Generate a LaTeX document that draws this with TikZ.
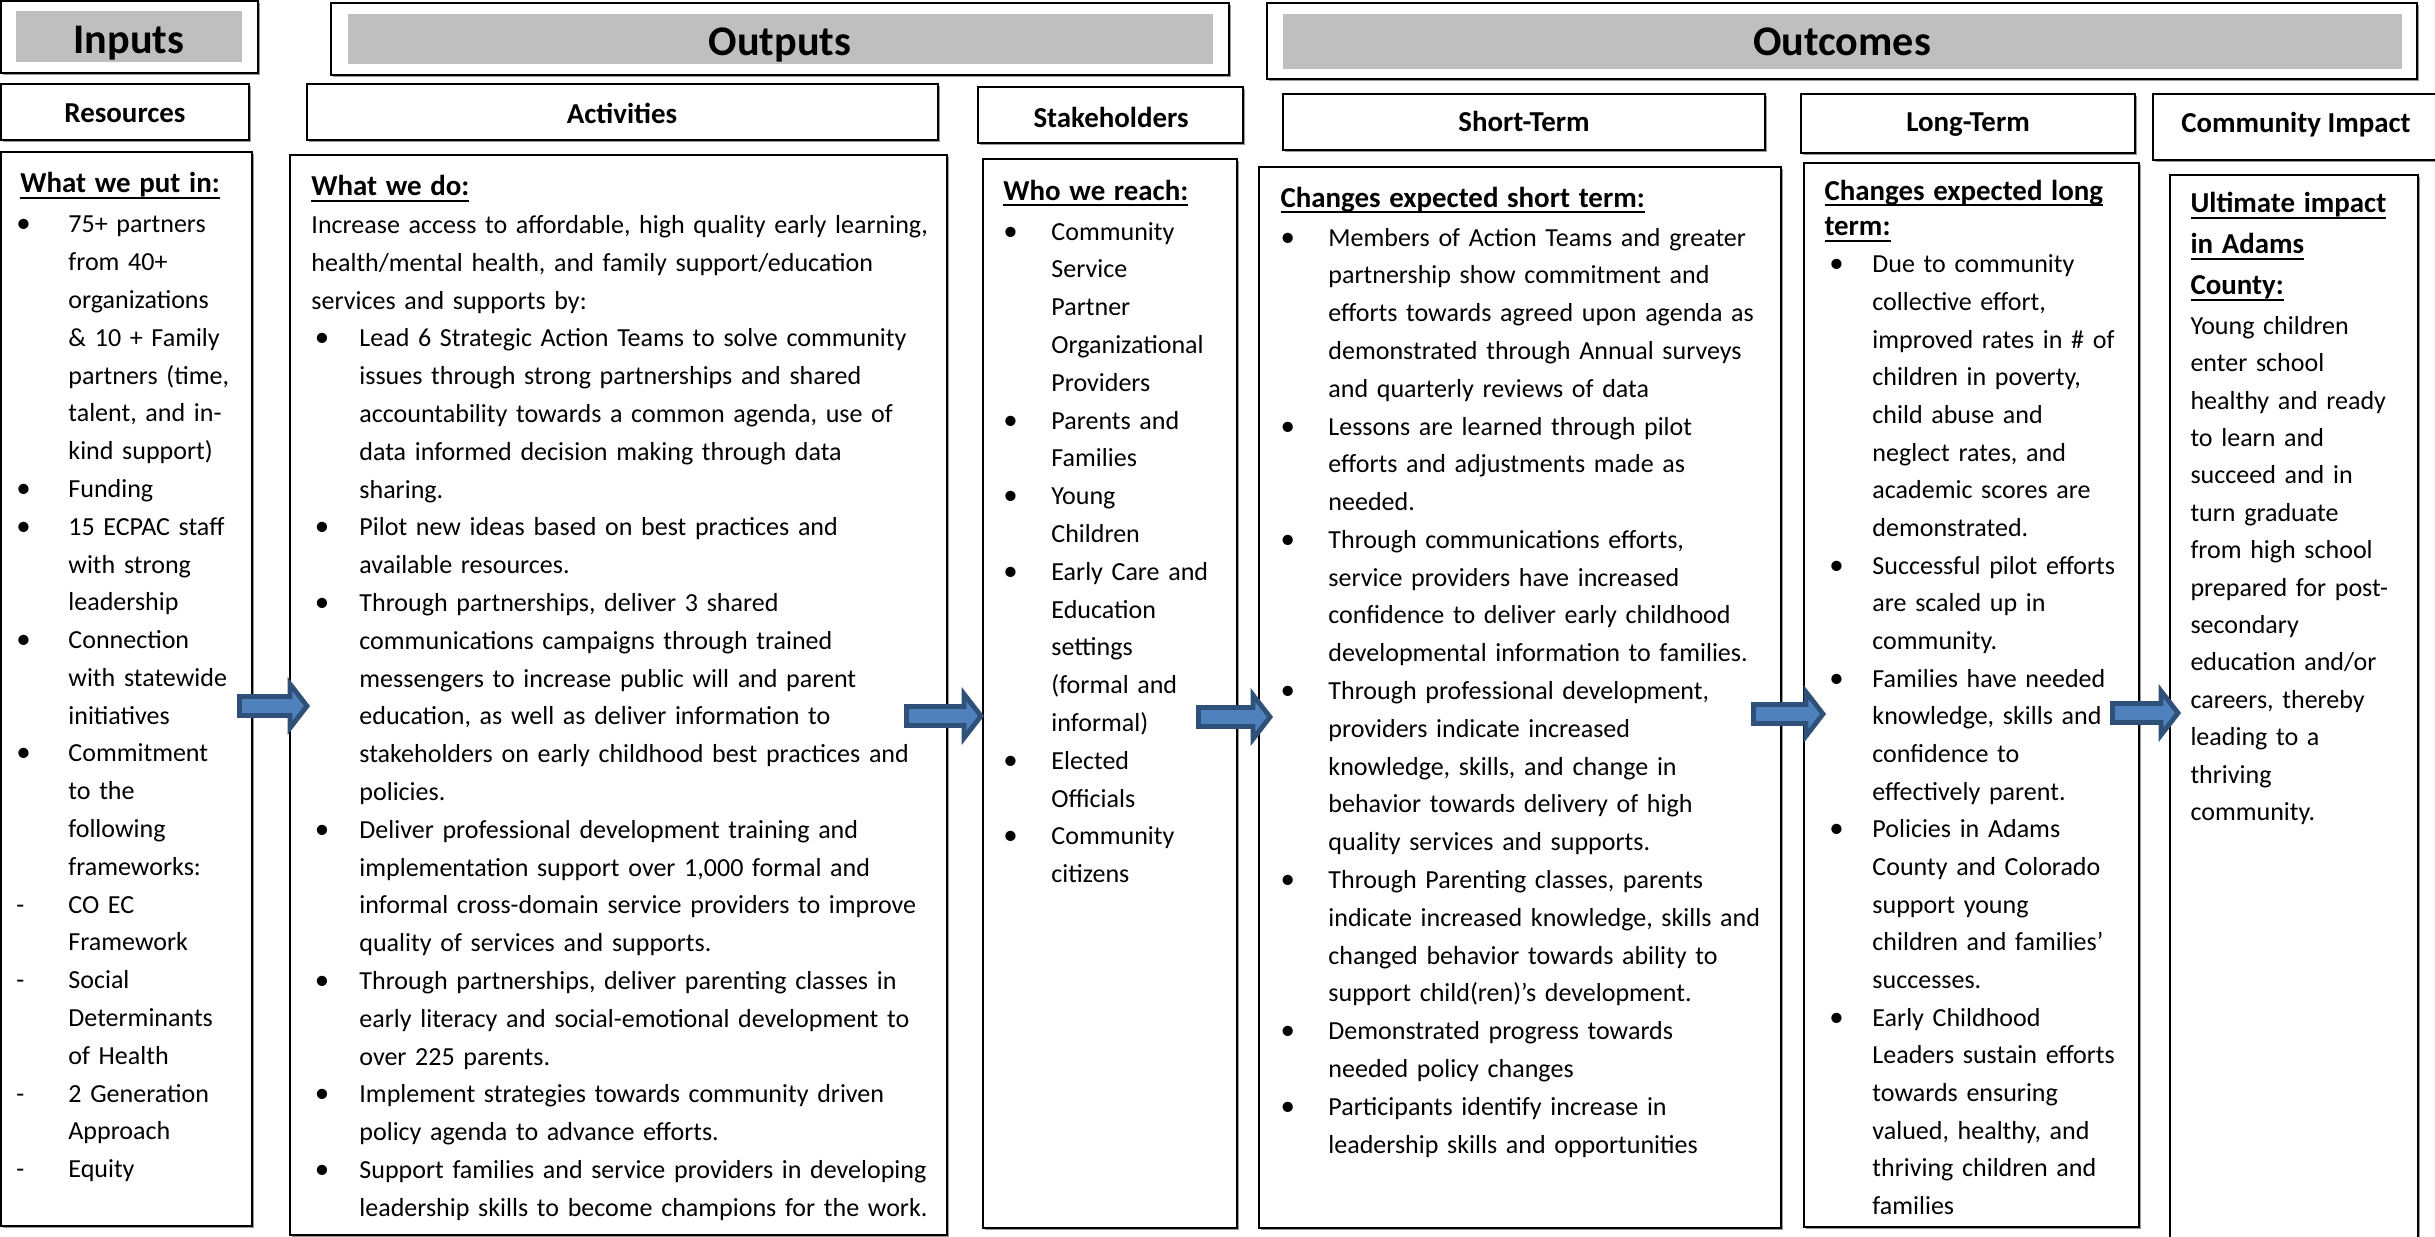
\documentclass[tikz,border=0pt]{standalone}
\usepackage{fontspec}
\setmainfont{Carlito}
\usetikzlibrary{fit,shadows}
\definecolor{hdrgray}{HTML}{BFBFBF}
\definecolor{arrfill}{HTML}{4F81BD}
\definecolor{arrline}{HTML}{2F5078}
\newlength\bulind
\newlength\txtind
\setlength\txtind{19.9pt}
\newcommand\bi{\leavevmode\makebox[\txtind][l]{\hspace*{\bulind}{\fontsize{12pt}{12pt}\selectfont\textbullet}}}
\newcommand\dsh{\leavevmode\makebox[\txtind][l]{\hspace*{\bulind}-}}
\newcommand\ct{\leavevmode\hspace*{\txtind}}
\newsavebox\ulbox
\newcommand\hd[1]{\leavevmode\sbox\ulbox{\fontsize{12pt}{15.69pt}\selectfont\bfseries #1}\rlap{\rule[-2.5pt]{\wd\ulbox}{0.8pt}}\usebox\ulbox}
\newcommand\blockarr[4]{%
  \coordinate (#1s) at (#2,#4);
  \coordinate (#1t) at (#3,#4);
  \draw[blockarrow] ({#2+2.5},{#4-9.5}) -- ({#3-22},{#4-9.5}) -- ({#3-22},{#4-22})
     -- ({#3-5},{#4}) -- ({#3-22},{#4+22}) -- ({#3-22},{#4+9.5}) -- ({#2+2.5},{#4+9.5}) -- cycle;}
\tikzset{
  box/.style={draw=black, line width=0.9pt, fill=white, inner sep=0pt,
    drop shadow={shadow xshift=0.9pt, shadow yshift=-0.9pt, fill=black!40, opacity=1}},
  graybar/.style={fill=hdrgray, draw=none, inner sep=0pt},
  titletext/.style={font=\fontsize{17.5pt}{21pt}\selectfont\bfseries, anchor=base, inner sep=0pt},
  subtext/.style={font=\fontsize{12pt}{14pt}\selectfont\bfseries, anchor=base, inner sep=0pt},
  bodytext/.style={anchor=base west, inner sep=0pt, align=left, text width=330pt,
    font=\fontsize{10.8pt}{15.69pt}\selectfont},
  blockarrow/.style={fill=arrfill, draw=arrline, line width=2pt, line join=miter},
}
\begin{document}
\begin{tikzpicture}[x=0.4151pt,y=-0.4151pt]
\useasboundingbox (0,0) rectangle (2435,1236);
% title row
\node[box, fit={(1,1) (258,73)}] (inOuter) {};
\node[graybar, fit={(16,11) (242,62)}] (inGray) {};
\node[titletext] (inTitle) at (129,53) {Inputs};
\node[box, fit={(331,3) (1229,75)}] (outOuter) {};
\node[graybar, fit={(348,14) (1213,64)}] (outGray) {};
\node[titletext] (outTitle) at (780,55.5) {Outputs};
\node[box, fit={(1267,3) (2417,79)}] (ocOuter) {};
\node[graybar, fit={(1283,14) (2402,69)}] (ocGray) {};
\node[titletext] (ocTitle) at (1842,55) {Outcomes};
% sub headers
\node[box, fit={(1,84) (249,140)}] (resHdr) {};
\node[subtext] at (125,122) {Resources};
\node[box, fit={(307,84) (938,140)}] (actHdr) {};
\node[subtext] at (622,123) {Activities};
\node[box, fit={(978,87) (1243,143)}] (stkHdr) {};
\node[subtext] at (1111,127) {Stakeholders};
\node[box, fit={(1283,94) (1765,150)}] (shortHdr) {};
\node[subtext] at (1524,131) {Short-Term};
\node[box, fit={(1801,94) (2135,153)}] (longHdr) {};
\node[subtext] at (1968,131) {Long-Term};
\node[box, fit={(2153,94) (2450,160)}] (impHdr) {};
\node[subtext] at (2296,132) {Community Impact};
% content boxes
\node[box, fit={(1,152) (252,1226)}] (inBox) {};
\node[box, fit={(290,155) (947,1235)}] (actBox) {};
\node[box, fit={(983,159) (1237,1228)}] (stkBox) {};
\node[box, fit={(1259,167) (1781,1228)}] (shortBox) {};
\node[box, fit={(1804,163) (2139,1227)}] (longBox) {};
\node[box, fit={(2170,175) (2418,1260)}] (impBox) {};
% texts
\node[bodytext] (inTxt) at (20,192.6) {\setlength\bulind{-1.7pt}%
\hd{What we put in:}\\[1pt]
\bi 75+ partners\\
\ct from 40+\\
\ct organizations\\
\ct \& 10 + Family\\
\ct partners (time,\\
\ct talent, and in-\\
\ct kind support)\\
\bi Funding\\
\bi 15 ECPAC staff\\
\ct with strong\\
\ct leadership\\
\bi Connection\\
\ct with statewide\\
\ct initiatives\\
\bi Commitment\\
\ct to the\\
\ct following\\
\ct frameworks:\\
\dsh CO EC\\
\ct Framework\\
\dsh Social\\
\ct Determinants\\
\ct of Health\\
\dsh 2 Generation\\
\ct Approach\\
\dsh Equity};
\node[bodytext] (actTxt) at (311,195.7) {\setlength\bulind{1.4pt}%
\hd{What we do:}\\
Increase access to affordable, high quality early learning,\\
health/mental health, and family support/education\\
services and supports by:\\
\bi Lead 6 Strategic Action Teams to solve community\\
\ct issues through strong partnerships and shared\\
\ct accountability towards a common agenda, use of\\
\ct data informed decision making through data\\
\ct sharing.\\
\bi Pilot new ideas based on best practices and\\
\ct available resources.\\
\bi Through partnerships, deliver 3 shared\\
\ct communications campaigns through trained\\
\ct messengers to increase public will and parent\\
\ct education, as well as deliver information to\\
\ct stakeholders on early childhood best practices and\\
\ct policies.\\
\bi Deliver professional development training and\\
\ct implementation support over 1,000 formal and\\
\ct informal cross-domain service providers to improve\\
\ct quality of services and supports.\\
\bi Through partnerships, deliver parenting classes in\\
\ct early literacy and social-emotional development to\\
\ct over 225 parents.\\
\bi Implement strategies towards community driven\\
\ct policy agenda to advance efforts.\\
\bi Support families and service providers in developing\\
\ct leadership skills to become champions for the work.};
\node[bodytext] (stkTxt) at (1003,200.3) {\setlength\bulind{0pt}%
\hd{Who we reach:}\\[0.8pt]
\bi Community\\
\ct Service\\
\ct Partner\\
\ct Organizational\\
\ct Providers\\
\bi Parents and\\
\ct Families\\
\bi Young\\
\ct Children\\
\bi Early Care and\\
\ct Education\\
\ct settings\\
\ct (formal and\\
\ct informal)\\
\bi Elected\\
\ct Officials\\
\bi Community\\
\ct citizens};
\node[bodytext] (shortTxt) at (1280,207) {\setlength\bulind{0pt}%
\hd{Changes expected short term:}\\[0.5pt]
\bi Members of Action Teams and greater\\
\ct partnership show commitment and\\
\ct efforts towards agreed upon agenda as\\
\ct demonstrated through Annual surveys\\
\ct and quarterly reviews of data\\
\bi Lessons are learned through pilot\\
\ct efforts and adjustments made as\\
\ct needed.\\
\bi Through communications efforts,\\
\ct service providers have increased\\
\ct confidence to deliver early childhood\\
\ct developmental information to families.\\
\bi Through professional development,\\
\ct providers indicate increased\\
\ct knowledge, skills, and change in\\
\ct behavior towards delivery of high\\
\ct quality services and supports.\\
\bi Through Parenting classes, parents\\
\ct indicate increased knowledge, skills and\\
\ct changed behavior towards ability to\\
\ct support child(ren)’s development.\\
\bi Demonstrated progress towards\\
\ct needed policy changes\\
\bi Participants identify increase in\\
\ct leadership skills and opportunities};
\node[bodytext, font=\fontsize{10.8pt}{15.63pt}\selectfont] (longTxt) at (1824,200.3) {\setlength\bulind{2pt}%
\hd{Changes expected long}\\[-0.9pt]
\hd{term:}\\[-0.2pt]
\bi Due to community\\
\ct collective effort,\\
\ct improved rates in \# of\\
\ct children in poverty,\\
\ct child abuse and\\
\ct neglect rates, and\\
\ct academic scores are\\
\ct demonstrated.\\
\bi Successful pilot efforts\\
\ct are scaled up in\\
\ct community.\\
\bi Families have needed\\
\ct knowledge, skills and\\
\ct confidence to\\
\ct effectively parent.\\
\bi Policies in Adams\\
\ct County and Colorado\\
\ct support young\\
\ct children and families’\\
\ct successes.\\
\bi Early Childhood\\
\ct Leaders sustain efforts\\
\ct towards ensuring\\
\ct valued, healthy, and\\
\ct thriving children and\\
\ct families};
\node[bodytext, font=\fontsize{10.8pt}{15.52pt}\selectfont] (impTxt) at (2190,212.8) {%
\hd{Ultimate impact}\\[1.5pt]
\hd{in Adams}\\[1.5pt]
\hd{County:}\\[0.9pt]
Young children\\
enter school\\
healthy and ready\\
to learn and\\
succeed and in\\
turn graduate\\
from high school\\
prepared for post-\\
secondary\\
education and/or\\
careers, thereby\\
leading to a\\
thriving\\
community.};
% block arrows
\blockarr{a1}{237}{312}{706}
\blockarr{a2}{904}{986}{716}
\blockarr{a3}{1196}{1275}{717}
\blockarr{a4}{1751}{1828}{714}
\blockarr{a5}{2110}{2183}{713}
\end{tikzpicture}
\end{document}
